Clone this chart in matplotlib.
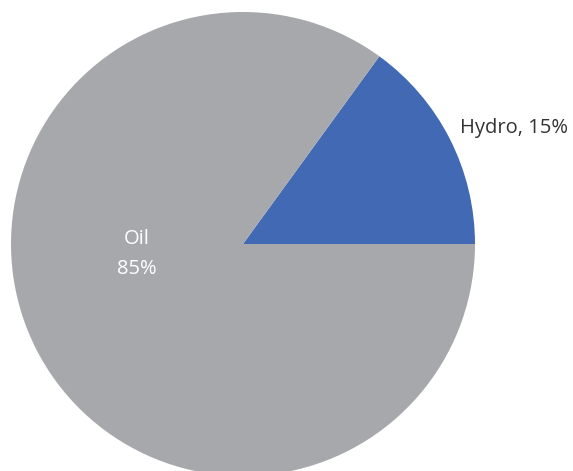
import matplotlib.pyplot as plt

labels = ["Hydro", "Oil"]
shares = [15, 85]
colors = ["#4169B4", "#A7A8AB"]

W, H = 573, 471
fig = plt.figure(figsize=(W / 100, H / 100), dpi=100)
ax = fig.add_axes([0, 0, 1, 1])

# pie in pixel units, y up
cx, cy, r = 243, H - 244, 232
ax.pie(shares, colors=colors, startangle=0, counterclock=True,
       center=(cx, cy), radius=r, frame=True,
       wedgeprops=dict(linewidth=0))
ax.set_xlim(0, W)
ax.set_ylim(0, H)
ax.set_aspect("equal")
ax.axis("off")

ax.text(460, H - 128, f"{labels[0]}, {shares[0]}%", fontsize=14.5,
        family="Open Sans", color="#333333", ha="left", va="center")
ax.text(137, H - 254, f"{labels[1]}\n{shares[1]}%", fontsize=14.5,
        family="Open Sans", color="white", ha="center", va="center",
        linespacing=1.6)

fig.savefig("out.png", dpi=100)
